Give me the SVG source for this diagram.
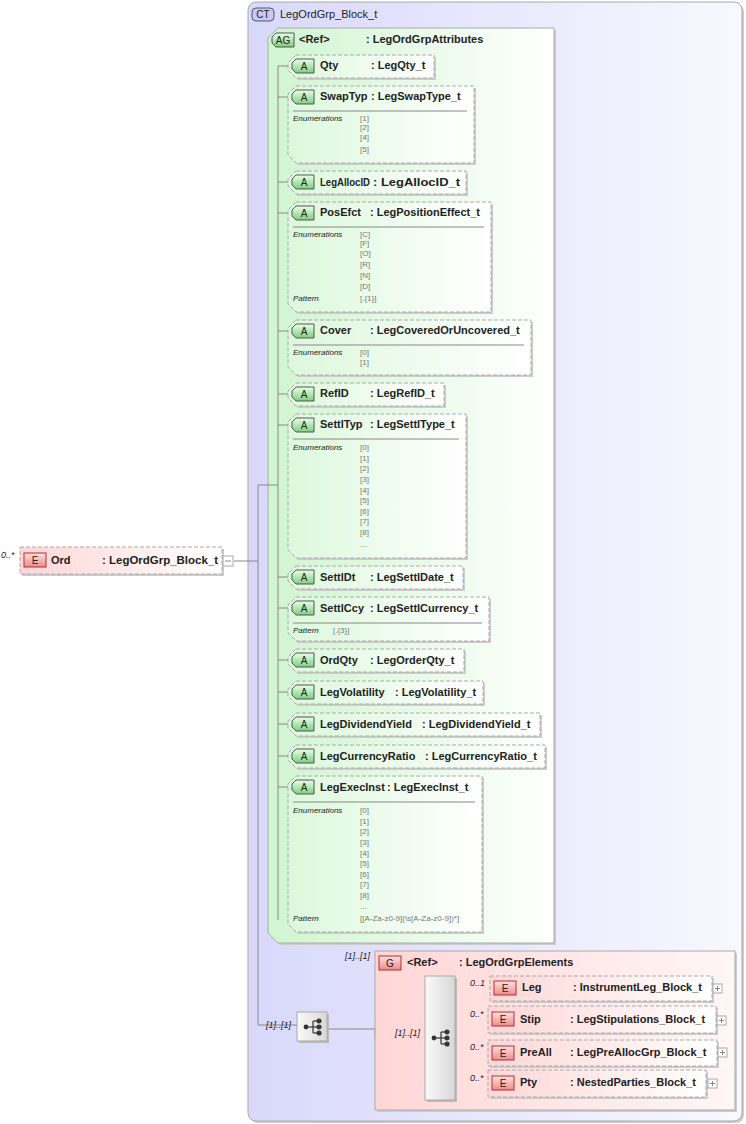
<svg xmlns="http://www.w3.org/2000/svg" width="746" height="1124" viewBox="0 0 746 1124">
<defs>
<linearGradient id="gct" x1="0" x2="1" y1="0" y2="0"><stop offset="0" stop-color="#d8d8fb"/><stop offset="1" stop-color="#f8f8ff"/></linearGradient>
<linearGradient id="gag" x1="0" x2="1" y1="0" y2="0"><stop offset="0" stop-color="#d0f5d0"/><stop offset="1" stop-color="#ffffff"/></linearGradient>
<linearGradient id="gat" x1="0" x2="1" y1="0" y2="0"><stop offset="0" stop-color="#dcf8dc"/><stop offset="1" stop-color="#ffffff"/></linearGradient>
<linearGradient id="gel" x1="0" x2="1" y1="0" y2="0"><stop offset="0" stop-color="#ffd6d6"/><stop offset="1" stop-color="#ffffff"/></linearGradient>
<linearGradient id="gg" x1="0" x2="1" y1="0" y2="0"><stop offset="0" stop-color="#ffd6d6"/><stop offset="1" stop-color="#fff6f6"/></linearGradient>
<linearGradient id="gseq" x1="0" x2="1" y1="0" y2="0"><stop offset="0" stop-color="#fafafa"/><stop offset="1" stop-color="#d8d8d8"/></linearGradient>
<linearGradient id="gbA" x1="0" x2="0" y1="0" y2="1"><stop offset="0" stop-color="#e8ffe8"/><stop offset="1" stop-color="#7fcf7f"/></linearGradient>
<linearGradient id="gbE" x1="0" x2="0" y1="0" y2="1"><stop offset="0" stop-color="#ffe0e0"/><stop offset="1" stop-color="#f08a8a"/></linearGradient>
<g id="seqicon"><line x1="-7" y1="0" x2="0" y2="0"/><line x1="0" y1="-6" x2="0" y2="6"/><line x1="0" y1="-6" x2="6" y2="-6"/><line x1="0" y1="0" x2="6" y2="0"/><line x1="0" y1="6" x2="6" y2="6"/><circle cx="-7" cy="0" r="1.8"/><circle cx="6" cy="-6" r="2"/><circle cx="6" cy="0" r="2"/><circle cx="6" cy="6" r="2"/></g>
</defs>
<style>
text{font-family:"Liberation Sans",Arial,sans-serif;}
.n{font-size:11px;font-weight:bold;fill:#222;}
.h{font-size:11px;fill:#222;}
.m{font-size:8px;font-style:italic;fill:#222;}
.q{font-size:9px;font-style:italic;fill:#222;}
.v{font-size:8px;fill:#777;}
.b{font-size:10px;fill:#222;}
.att{fill:url(#gat);stroke:#aaa;stroke-dasharray:4,2;}
.sh{fill:#ccc;}
.ln{stroke:#888;fill:none;stroke-width:1;}
.bA{fill:url(#gbA);stroke:#555;}
.bE{fill:url(#gbE);stroke:#a33;}
.el{fill:url(#gel);stroke:#aaa;stroke-dasharray:4,2;}
.sep{stroke:#888;}
.pm{fill:#fff;stroke:#aaa;}
.ic{stroke:#333;fill:#333;stroke-width:1.2;}
</style>
<g id="ct">
<rect x="250" y="4" width="494" height="1119" rx="8" fill="#ccc"/>
<rect x="248" y="2" width="494" height="1119" rx="8" fill="url(#gct)" stroke="#aaa"/>
<rect x="252" y="8" width="22" height="13" rx="4" fill="#c8c8f4" stroke="#557"/>
<text class="b" x="263" y="18" text-anchor="middle">CT</text>
<text class="h" x="280" y="18">LegOrdGrp_Block_t</text>
</g>
<g id="ag">
<path d="M280,30 H556 V945 H280 L270,935 V40 Z" fill="#ccc"/>
<path d="M278,28 H554 V943 H278 L268,933 V38 Z" fill="url(#gag)" stroke="#aaa"/>
<path d="M276,33 H294 V47 H276 L272,43 V37 Z" class="bA"/>
<text class="b" x="283" y="44" text-anchor="middle">AG</text>
<text class="n" x="299" y="43">&lt;Ref&gt;</text>
<text class="n" x="366" y="43">: LegOrdGrpAttributes</text>
</g>
<g id="connectors" class="ln">
<line x1="278" y1="66" x2="278" y2="920"/>
<path d="M278,66 H288 M278,97 H288 M278,182 H288 M278,213 H288 M278,331 H288 M278,394 H288 M278,425 H288 M278,577 H288 M278,608 H288 M278,660 H288 M278,692 H288 M278,724 H288 M278,756 H288 M278,787 H288"/>
<path d="M234,561 H258 V485 H278 M258,561 V1025 H297"/>
<path d="M327,1029 H375 V1038 H425"/>
<path d="M455,988 H490 M455,1019 H488 M455,1053 H488 M455,1083 H488"/>
</g>
<g id="attrs">
<g id="a-qty"><path class="sh" d="M298,57 H436 V80 H298 L290,72 V65 Z"/><path class="att" d="M296,55 H434 V78 H296 L288,70 V63 Z"/><path class="bA" d="M296,59 H314 V73 H296 L292,69 V63 Z"/><text class="b" x="304" y="70" text-anchor="middle">A</text><text class="n" x="320" y="69">Qty</text><text class="n" x="371" y="69">: LegQty_t</text></g>
<g id="a-swaptyp"><path class="sh" d="M298,88 H476 V165 H298 L290,157 V96 Z"/><path class="att" d="M296,86 H474 V163 H296 L288,155 V94 Z"/><path class="bA" d="M296,90 H314 V104 H296 L292,100 V94 Z"/><text class="b" x="304" y="101" text-anchor="middle">A</text><text class="n" x="320" y="100">SwapTyp</text><text class="n" x="371" y="100">: LegSwapType_t</text><line class="sep" x1="293" y1="111" x2="467" y2="111"/><text class="m" x="293" y="121">Enumerations</text><text class="v" x="360" y="121">[1]</text><text class="v" x="360" y="130">[2]</text><text class="v" x="360" y="140">[4]</text><text class="v" x="360" y="152">[5]</text></g>
<g id="a-legallocid"><path class="sh" d="M298,173 H468 V196 H298 L290,188 V181 Z"/><path class="att" d="M296,171 H466 V194 H296 L288,186 V179 Z"/><path class="bA" d="M296,175 H314 V189 H296 L292,185 V179 Z"/><text class="b" x="304" y="186" text-anchor="middle">A</text><text class="n" x="320" y="186" textLength="50" lengthAdjust="spacingAndGlyphs">LegAllocID</text><text class="n" x="373" y="186" textLength="87" lengthAdjust="spacingAndGlyphs">: LegAllocID_t</text></g>
<g id="a-posefct"><path class="sh" d="M298,204 H493 V314 H298 L290,306 V212 Z"/><path class="att" d="M296,202 H491 V312 H296 L288,304 V210 Z"/><path class="bA" d="M296,206 H314 V220 H296 L292,216 V210 Z"/><text class="b" x="304" y="217" text-anchor="middle">A</text><text class="n" x="320" y="216">PosEfct</text><text class="n" x="370" y="216">: LegPositionEffect_t</text><line class="sep" x1="293" y1="227" x2="484" y2="227"/><text class="m" x="293" y="237">Enumerations</text><text class="v" x="360" y="237">[C]</text><text class="v" x="360" y="246">[F]</text><text class="v" x="360" y="256">[O]</text><text class="v" x="360" y="267">[R]</text><text class="v" x="360" y="278">[N]</text><text class="v" x="360" y="289">[D]</text><text class="m" x="293" y="301">Pattern</text><text class="v" x="360" y="301">[.{1}]</text></g>
<g id="a-cover"><path class="sh" d="M298,322 H533 V377 H298 L290,369 V330 Z"/><path class="att" d="M296,320 H531 V375 H296 L288,367 V328 Z"/><path class="bA" d="M296,324 H314 V338 H296 L292,334 V328 Z"/><text class="b" x="304" y="335" text-anchor="middle">A</text><text class="n" x="320" y="334">Cover</text><text class="n" x="370" y="334">: LegCoveredOrUncovered_t</text><line class="sep" x1="293" y1="345" x2="524" y2="345"/><text class="m" x="293" y="355">Enumerations</text><text class="v" x="360" y="355">[0]</text><text class="v" x="360" y="365">[1]</text></g>
<g id="a-refid"><path class="sh" d="M298,385 H446 V408 H298 L290,400 V393 Z"/><path class="att" d="M296,383 H444 V406 H296 L288,398 V391 Z"/><path class="bA" d="M296,387 H314 V401 H296 L292,397 V391 Z"/><text class="b" x="304" y="398" text-anchor="middle">A</text><text class="n" x="320" y="397">RefID</text><text class="n" x="370" y="397">: LegRefID_t</text></g>
<g id="a-settltyp"><path class="sh" d="M298,416 H468 V560 H298 L290,552 V424 Z"/><path class="att" d="M296,414 H466 V558 H296 L288,550 V422 Z"/><path class="bA" d="M296,418 H314 V432 H296 L292,428 V422 Z"/><text class="b" x="304" y="429" text-anchor="middle">A</text><text class="n" x="320" y="428">SettlTyp</text><text class="n" x="370" y="428">: LegSettlType_t</text><line class="sep" x1="293" y1="439" x2="459" y2="439"/><text class="m" x="293" y="450">Enumerations</text><text class="v" x="360" y="450">[0]</text><text class="v" x="360" y="461">[1]</text><text class="v" x="360" y="471">[2]</text><text class="v" x="360" y="482">[3]</text><text class="v" x="360" y="493">[4]</text><text class="v" x="360" y="503">[5]</text><text class="v" x="360" y="514">[6]</text><text class="v" x="360" y="524">[7]</text><text class="v" x="360" y="535">[8]</text><text class="v" x="360" y="547">...</text></g>
<g id="a-settldt"><path class="sh" d="M298,568 H465 V591 H298 L290,583 V576 Z"/><path class="att" d="M296,566 H463 V589 H296 L288,581 V574 Z"/><path class="bA" d="M296,570 H314 V584 H296 L292,580 V574 Z"/><text class="b" x="304" y="581" text-anchor="middle">A</text><text class="n" x="320" y="581">SettlDt</text><text class="n" x="370" y="581">: LegSettlDate_t</text></g>
<g id="a-settlccy"><path class="sh" d="M298,599 H491 V643 H298 L290,635 V607 Z"/><path class="att" d="M296,597 H489 V641 H296 L288,633 V605 Z"/><path class="bA" d="M296,601 H314 V615 H296 L292,611 V605 Z"/><text class="b" x="304" y="612" text-anchor="middle">A</text><text class="n" x="320" y="612">SettlCcy</text><text class="n" x="370" y="612">: LegSettlCurrency_t</text><line class="sep" x1="293" y1="623" x2="482" y2="623"/><text class="m" x="293" y="633">Pattern</text><text class="v" x="333" y="633">[.{3}]</text></g>
<g id="a-ordqty"><path class="sh" d="M298,651 H466 V674 H298 L290,666 V659 Z"/><path class="att" d="M296,649 H464 V672 H296 L288,664 V657 Z"/><path class="bA" d="M296,653 H314 V667 H296 L292,663 V657 Z"/><text class="b" x="304" y="664" text-anchor="middle">A</text><text class="n" x="320" y="664">OrdQty</text><text class="n" x="370" y="664">: LegOrderQty_t</text></g>
<g id="a-legvol"><path class="sh" d="M298,683 H485 V706 H298 L290,698 V691 Z"/><path class="att" d="M296,681 H483 V704 H296 L288,696 V689 Z"/><path class="bA" d="M296,685 H314 V699 H296 L292,695 V689 Z"/><text class="b" x="304" y="696" text-anchor="middle">A</text><text class="n" x="320" y="696">LegVolatility</text><text class="n" x="395" y="696">: LegVolatility_t</text></g>
<g id="a-legdiv"><path class="sh" d="M298,715 H542 V738 H298 L290,730 V723 Z"/><path class="att" d="M296,713 H540 V736 H296 L288,728 V721 Z"/><path class="bA" d="M296,717 H314 V731 H296 L292,727 V721 Z"/><text class="b" x="304" y="728" text-anchor="middle">A</text><text class="n" x="320" y="728">LegDividendYield</text><text class="n" x="422" y="728">: LegDividendYield_t</text></g>
<g id="a-legcur"><path class="sh" d="M298,747 H547 V770 H298 L290,762 V755 Z"/><path class="att" d="M296,745 H545 V768 H296 L288,760 V753 Z"/><path class="bA" d="M296,749 H314 V763 H296 L292,759 V753 Z"/><text class="b" x="304" y="760" text-anchor="middle">A</text><text class="n" x="320" y="760">LegCurrencyRatio</text><text class="n" x="425" y="760">: LegCurrencyRatio_t</text></g>
<g id="a-legexec"><path class="sh" d="M298,778 H484 V934 H298 L290,926 V786 Z"/><path class="att" d="M296,776 H482 V932 H296 L288,924 V784 Z"/><path class="bA" d="M296,780 H314 V794 H296 L292,790 V784 Z"/><text class="b" x="304" y="791" text-anchor="middle">A</text><text class="n" x="320" y="791">LegExecInst</text><text class="n" x="387" y="791">: LegExecInst_t</text><line class="sep" x1="293" y1="802" x2="475" y2="802"/><text class="m" x="293" y="813">Enumerations</text><text class="v" x="360" y="813">[0]</text><text class="v" x="360" y="824">[1]</text><text class="v" x="360" y="834">[2]</text><text class="v" x="360" y="845">[3]</text><text class="v" x="360" y="856">[4]</text><text class="v" x="360" y="866">[5]</text><text class="v" x="360" y="877">[6]</text><text class="v" x="360" y="887">[7]</text><text class="v" x="360" y="898">[8]</text><text class="v" x="360" y="909">...</text><text class="m" x="293" y="921">Pattern</text><text class="v" x="360" y="921">[[A-Za-z0-9](\s[A-Za-z0-9])*]</text></g>
</g>
<g id="ord">
<text class="q" x="1" y="558">0..*</text>
<rect x="22" y="549" width="202" height="27" fill="#ccc"/>
<rect x="20" y="547" width="202" height="27" class="el"/>
<rect x="24" y="553" width="22" height="14" class="bE"/><text class="b" x="35" y="564" text-anchor="middle">E</text>
<text class="n" x="51" y="564">Ord</text><text class="n" x="102" y="564" textLength="116" lengthAdjust="spacingAndGlyphs">: LegOrdGrp_Block_t</text>
<rect x="223" y="556" width="10" height="10" class="pm"/><line x1="225" y1="561" x2="231" y2="561" stroke="#888"/>
</g>
<g id="seq1">
<text class="q" x="266" y="1028">[1]..[1]</text>
<rect x="299" y="1014" width="30" height="29" fill="#bbb"/>
<rect x="297" y="1012" width="30" height="29" fill="url(#gseq)" stroke="#aaa"/>
<use href="#seqicon" x="313" y="1027" class="ic"/>
</g>
<g id="grp">
<text class="q" x="345" y="959">[1]..[1]</text>
<rect x="377" y="953" width="360" height="159" fill="#ccc"/>
<rect x="375" y="951" width="360" height="159" fill="url(#gg)" stroke="#aaa"/>
<rect x="379" y="956" width="22" height="14" class="bE"/><text class="b" x="390" y="967" text-anchor="middle">G</text>
<text class="n" x="407" y="966">&lt;Ref&gt;</text><text class="n" x="459" y="966">: LegOrdGrpElements</text>
<text class="q" x="395" y="1036">[1]..[1]</text>
<rect x="427" y="978" width="30" height="124" fill="#bbb"/>
<rect x="425" y="976" width="30" height="124" fill="url(#gseq)" stroke="#aaa"/>
<use href="#seqicon" x="441" y="1038" class="ic"/>
</g>
<g id="e-leg"><text class="q" x="470" y="986">0..1</text><rect x="492" y="978" width="222" height="25" fill="#ccc"/><rect x="490" y="976" width="222" height="25" class="el"/><rect x="494" y="981" width="22" height="14" class="bE"/><text class="b" x="505" y="992" text-anchor="middle">E</text><text class="n" x="522" y="991">Leg</text><text class="n" x="573" y="991">: InstrumentLeg_Block_t</text><rect x="713" y="984" width="9" height="9" class="pm"/><path d="M715,988.5 H720 M717.5,986 V991" stroke="#888"/></g>
<g id="e-stip"><text class="q" x="470" y="1017">0..*</text><rect x="490" y="1008" width="228" height="27" fill="#ccc"/><rect x="488" y="1006" width="228" height="27" class="el"/><rect x="492" y="1012" width="22" height="14" class="bE"/><text class="b" x="503" y="1023" text-anchor="middle">E</text><text class="n" x="520" y="1023">Stip</text><text class="n" x="570" y="1023">: LegStipulations_Block_t</text><rect x="717" y="1016" width="9" height="9" class="pm"/><path d="M719,1020.5 H724 M721.5,1018 V1023" stroke="#888"/></g>
<g id="e-preall"><text class="q" x="470" y="1050">0..*</text><rect x="490" y="1042" width="229" height="26" fill="#ccc"/><rect x="488" y="1040" width="229" height="26" class="el"/><rect x="492" y="1046" width="22" height="14" class="bE"/><text class="b" x="503" y="1057" text-anchor="middle">E</text><text class="n" x="520" y="1056">PreAll</text><text class="n" x="570" y="1056">: LegPreAllocGrp_Block_t</text><rect x="718" y="1048" width="9" height="9" class="pm"/><path d="M720,1052.5 H725 M722.5,1050 V1055" stroke="#888"/></g>
<g id="e-pty"><text class="q" x="470" y="1081">0..*</text><rect x="490" y="1072" width="218" height="27" fill="#ccc"/><rect x="488" y="1070" width="218" height="27" class="el"/><rect x="492" y="1076" width="22" height="14" class="bE"/><text class="b" x="503" y="1087" text-anchor="middle">E</text><text class="n" x="520" y="1086">Pty</text><text class="n" x="570" y="1086">: NestedParties_Block_t</text><rect x="708" y="1079" width="9" height="9" class="pm"/><path d="M710,1083.5 H715 M712.5,1081 V1086" stroke="#888"/></g>
</svg>
